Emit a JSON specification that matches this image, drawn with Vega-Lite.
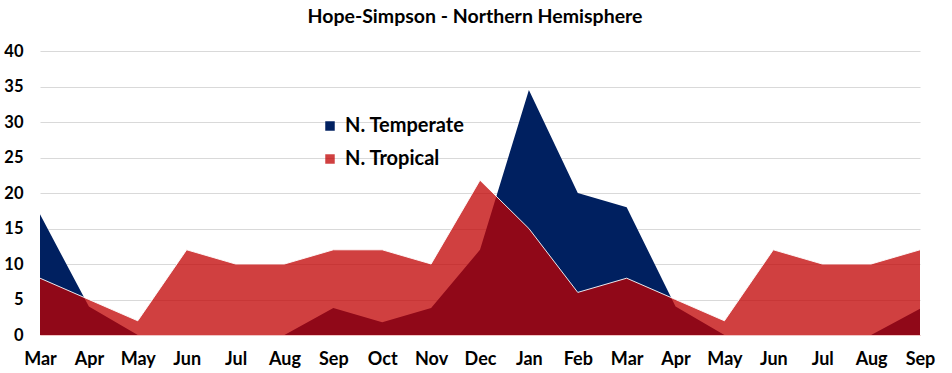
{
  "$schema": "https://vega.github.io/schema/vega-lite/v6.json",
  "width": 880,
  "height": 284,
  "autosize": "none",
  "padding": {"left": 40, "top": 51, "right": 32, "bottom": 38},
  "background": "white",
  "title": {"text": "Hope-Simpson - Northern Hemisphere", "font": "Lato", "fontSize": 19.5, "fontWeight": "bold", "color": "#000000", "offset": 16, "anchor": "middle", "dx": -5},
  "config": {"view": {"stroke": null}},
  "data": {"values": [
    {"k": "Mar a", "series": "N. Temperate", "v": 17},
    {"k": "Apr a", "series": "N. Temperate", "v": 4},
    {"k": "May a", "series": "N. Temperate", "v": 0},
    {"k": "Jun a", "series": "N. Temperate", "v": 0},
    {"k": "Jul a", "series": "N. Temperate", "v": 0},
    {"k": "Aug a", "series": "N. Temperate", "v": 0},
    {"k": "Sep a", "series": "N. Temperate", "v": 3.8},
    {"k": "Oct a", "series": "N. Temperate", "v": 1.8},
    {"k": "Nov a", "series": "N. Temperate", "v": 3.8},
    {"k": "Dec a", "series": "N. Temperate", "v": 12},
    {"k": "Jan b", "series": "N. Temperate", "v": 34.5},
    {"k": "Feb b", "series": "N. Temperate", "v": 20},
    {"k": "Mar b", "series": "N. Temperate", "v": 18},
    {"k": "Apr b", "series": "N. Temperate", "v": 4},
    {"k": "May b", "series": "N. Temperate", "v": 0},
    {"k": "Jun b", "series": "N. Temperate", "v": 0},
    {"k": "Jul b", "series": "N. Temperate", "v": 0},
    {"k": "Aug b", "series": "N. Temperate", "v": 0},
    {"k": "Sep b", "series": "N. Temperate", "v": 3.7},
    {"k": "Mar a", "series": "N. Tropical", "v": 8},
    {"k": "Apr a", "series": "N. Tropical", "v": 5},
    {"k": "May a", "series": "N. Tropical", "v": 2},
    {"k": "Jun a", "series": "N. Tropical", "v": 12},
    {"k": "Jul a", "series": "N. Tropical", "v": 10},
    {"k": "Aug a", "series": "N. Tropical", "v": 10},
    {"k": "Sep a", "series": "N. Tropical", "v": 12},
    {"k": "Oct a", "series": "N. Tropical", "v": 12},
    {"k": "Nov a", "series": "N. Tropical", "v": 10},
    {"k": "Dec a", "series": "N. Tropical", "v": 21.8},
    {"k": "Jan b", "series": "N. Tropical", "v": 15},
    {"k": "Feb b", "series": "N. Tropical", "v": 6},
    {"k": "Mar b", "series": "N. Tropical", "v": 8},
    {"k": "Apr b", "series": "N. Tropical", "v": 5},
    {"k": "May b", "series": "N. Tropical", "v": 2},
    {"k": "Jun b", "series": "N. Tropical", "v": 12},
    {"k": "Jul b", "series": "N. Tropical", "v": 10},
    {"k": "Aug b", "series": "N. Tropical", "v": 10},
    {"k": "Sep b", "series": "N. Tropical", "v": 12}
  ]},
  "encoding": {
    "x": {"field": "k", "type": "ordinal", "sort": null, "scale": {"type": "point", "padding": 0},
      "axis": {"title": null, "labelExpr": "slice(datum.label, 0, 3)", "labelAngle": 0, "labelFont": "Lato", "labelFontSize": 18, "labelFontWeight": "bold", "labelColor": "#000000", "labelPadding": 15, "ticks": false, "domain": true, "domainColor": "#F2C4C4", "grid": false}},
    "y": {"field": "v", "type": "quantitative", "scale": {"domain": [0, 40]},
      "axis": {"title": null, "values": [0, 5, 10, 15, 20, 25, 30, 35, 40], "labelFont": "Lato", "labelFontSize": 16.5, "labelFontWeight": "bold", "labelColor": "#000000", "labelPadding": 17, "ticks": false, "domain": false, "gridColor": "#D9D9D9", "gridWidth": 1}}
  },
  "layer": [
    {
      "transform": [{"filter": "datum.series == 'N. Temperate'"}],
      "mark": {"type": "area", "stack": null},
      "encoding": {
        "color": {"field": "series", "type": "nominal", "scale": {"domain": ["N. Temperate", "N. Tropical"], "range": ["#002060", "#C00000"]},
          "legend": {"title": null, "orient": "none", "legendX": 280, "legendY": 65, "symbolType": "square", "symbolSize": 90, "labelFont": "Lato", "labelFontSize": 20, "labelFontWeight": "bold", "labelColor": "#000000", "rowPadding": 13, "labelOffset": 5, "symbolStrokeWidth": 0}},
        "opacity": {"field": "series", "type": "nominal", "scale": {"domain": ["N. Temperate", "N. Tropical"], "range": [1, 0.75]}, "legend": null}
      }
    },
    {
      "transform": [{"filter": "datum.series == 'N. Tropical'"}],
      "mark": {"type": "area", "stack": null},
      "encoding": {
        "color": {"field": "series", "type": "nominal"},
        "opacity": {"field": "series", "type": "nominal", "legend": null}
      }
    },
    {
      "transform": [{"filter": "datum.series == 'N. Tropical'"}],
      "mark": {"type": "line", "color": "#FFFFFF", "strokeWidth": 1, "opacity": 0.9},
      "encoding": {}
    }
  ]
}
